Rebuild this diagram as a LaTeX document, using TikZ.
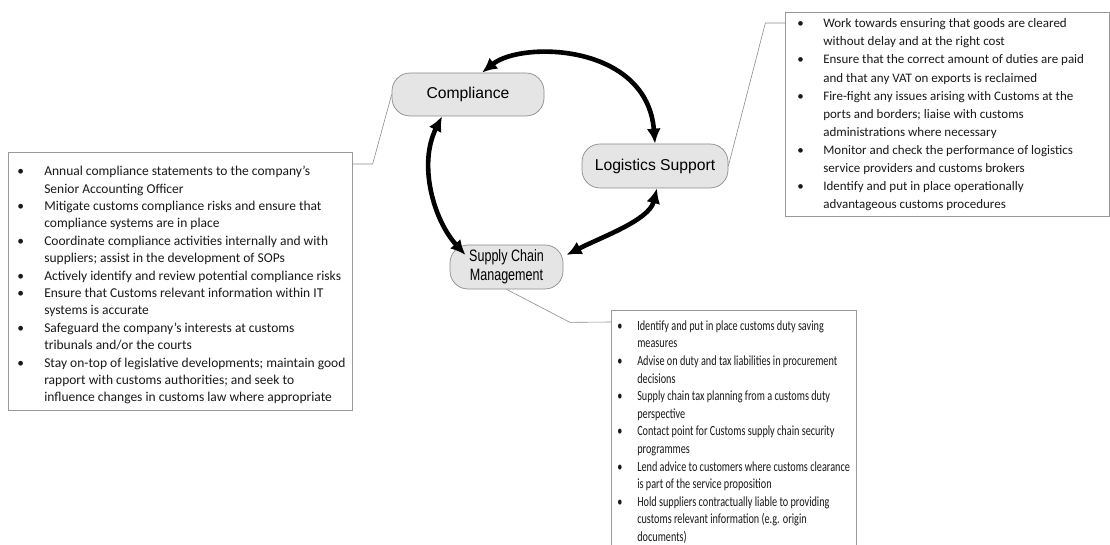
\documentclass[tikz,border=0pt]{standalone}
\usepackage{fontspec}
\usepackage{array}
\setmainfont{Carlito}
\newfontfamily\arialf{Liberation Sans}
\newfontfamily\arialcond{Liberation Sans}[FakeStretch=0.76]
\newfontfamily\calcond{Carlito}[FakeStretch=0.73]
\usetikzlibrary{arrows.meta,calc}
\tikzset{
  pill/.style={draw=black!45, fill=black!10, rounded corners=18pt, line width=0.7pt,
    inner sep=0pt, align=center, font=\arialf\fontsize{15.7}{19}\selectfont},
  infobox/.style={draw=black!40, line width=0.6pt, inner sep=0pt, anchor=north west,
    text=black!90, align=left},
  conn/.style={draw=black!45, line width=0.6pt},
  bigarrow/.style={line width=4.6pt, {Latex[length=15pt,width=14pt]}-{Latex[length=15pt,width=14pt]}},
}
\begin{document}
\begin{tikzpicture}[x=1pt,y=-1pt]
\useasboundingbox[fill=white] (0,0) rectangle (1110,545);

% central nodes
\node[pill, minimum width=152pt, minimum height=43pt] (comp) at (468,94.5) {Compliance};
\node[pill, minimum width=146pt, minimum height=44pt] (log) at (655,166) {Logistics Support};
\node[pill, minimum width=113pt, minimum height=44pt, font=\arialcond\fontsize{16.5}{19}\selectfont] (scm) at (506.5,267) {Supply Chain\\Management};

% left box
\node[infobox, text height=23.5pt, text depth=234.5pt] (lbox) at (8,152) {\fontsize{13.5}{17.4}\selectfont
\begin{tabular}[t]{@{\hspace{9pt}}p{27pt}@{}p{308pt}@{}}
\textbullet & Annual compliance statements to the company’s\\
 & Senior Accounting Officer\\
\textbullet & Mitigate customs compliance risks and ensure that\\
 & compliance systems are in place\\
\textbullet & Coordinate compliance activities internally and with\\
 & suppliers; assist in the development of SOPs\\
\textbullet & Actively identify and review potential compliance risks\\
\textbullet & Ensure that Customs relevant information within IT\\
 & systems is accurate\\
\textbullet & Safeguard the company’s interests at customs\\
 & tribunals and/or the courts\\
\textbullet & Stay on-top of legislative developments; maintain good\\
 & rapport with customs authorities; and seek to\\
 & influence changes in customs law where appropriate
\end{tabular}};

% right box
\node[infobox, text height=15.5pt, text depth=188.5pt] (rbox) at (785,12) {\fontsize{13}{18.1}\selectfont
\begin{tabular}[t]{@{\hspace{12pt}}p{26pt}@{}p{286pt}@{}}
\textbullet & Work towards ensuring that goods are cleared\\
 & without delay and at the right cost\\
\textbullet & Ensure that the correct amount of duties are paid\\
 & and that any VAT on exports is reclaimed\\
\textbullet & Fire-fight any issues arising with Customs at the\\
 & ports and borders; liaise with customs\\
 & administrations where necessary\\
\textbullet & Monitor and check the performance of logistics\\
 & service providers and customs brokers\\
\textbullet & Identify and put in place operationally\\
 & advantageous customs procedures
\end{tabular}};

% bottom box
\node[infobox, text height=20pt, text depth=260pt] (bbox) at (611,310) {\calcond\fontsize{14}{17.6}\selectfont
\begin{tabular}[t]{@{\hspace{6pt}}p{20pt}@{}p{219pt}@{}}
\textbullet & Identify and put in place customs duty saving\\
 & measures\\
\textbullet & Advise on duty and tax liabilities in procurement\\
 & decisions\\
\textbullet & Supply chain tax planning from a customs duty\\
 & perspective\\
\textbullet & Contact point for Customs supply chain security\\
 & programmes\\
\textbullet & Lend advice to customers where customs clearance\\
 & is part of the service proposition\\
\textbullet & Hold suppliers contractually liable to providing\\
 & customs relevant information (e.g. origin\\
 & documents)
\end{tabular}};

% connectors to boxes
\draw[conn] (comp.west) -- ++(-19,69.5) -- ($(lbox.north east)+(0,12)$);
\draw[conn] (log.east) -- ++(37,-143) -- ($(rbox.north west)+(0,11)$);
\draw[conn] (scm.south) -- ++(63.5,33) -- ($(bbox.north west)+(0,12)$);

% big arrows
\draw[bigarrow] ($(comp.north)+(14,0)$) .. controls +(40,-32) and +(-8,-100) .. (log.north);
\draw[bigarrow] ($(comp.south)+(-26,0)$) .. controls +(-24,48) and +(-32,-35) .. ($(scm.center)+(-41,-12)$);
\draw[bigarrow] ($(log.south)+(2,0)$) .. controls +(-8,32) and +(35,-18) .. ($(scm.center)+(60,-12)$);
\end{tikzpicture}
\end{document}
